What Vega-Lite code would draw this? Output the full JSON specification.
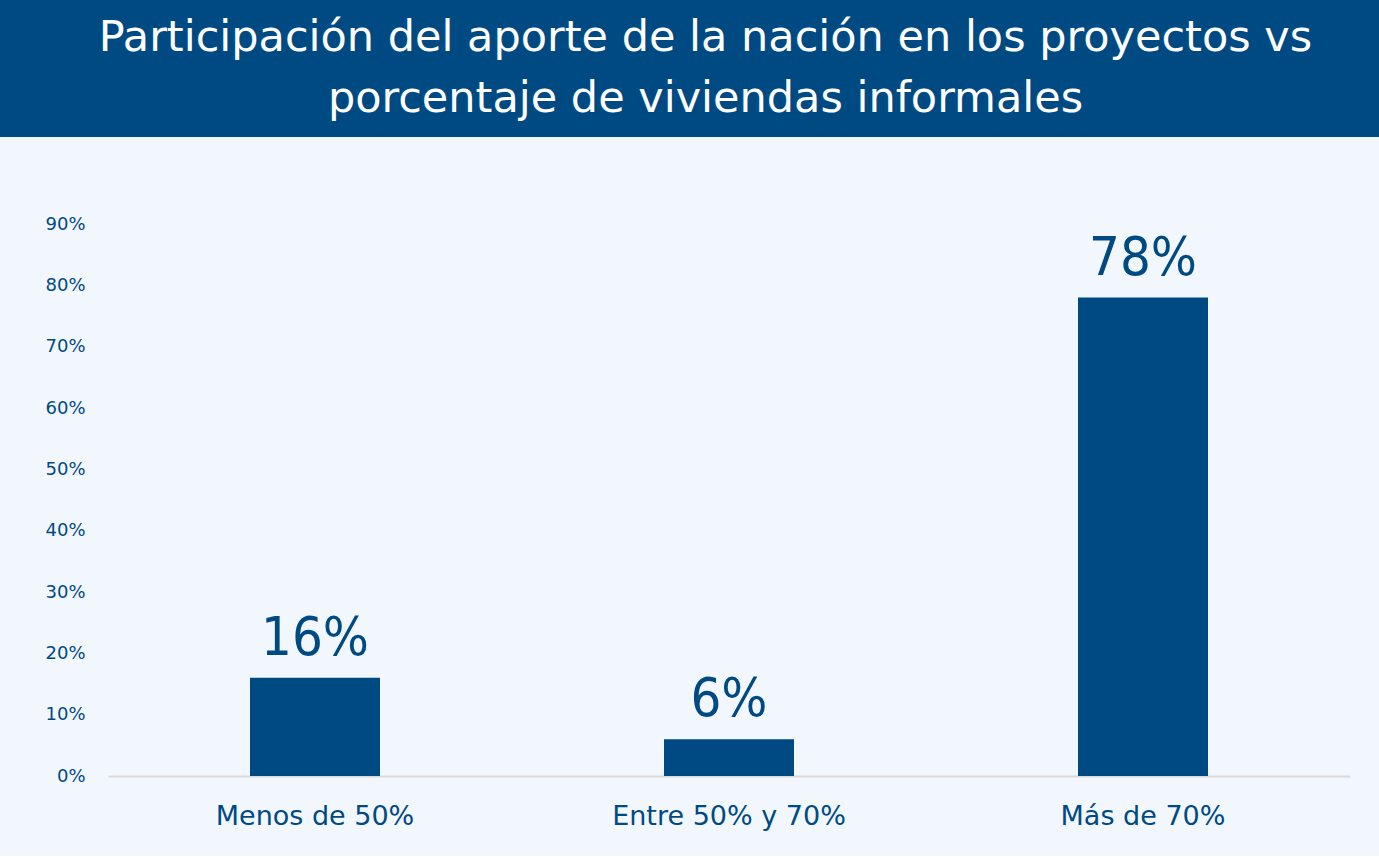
{
  "$schema": "https://vega.github.io/schema/vega-lite/v6.json",
  "background": "#F2F7FD",
  "padding": {"left": 0, "top": 0, "right": 0, "bottom": 27},
  "autosize": {"type": "pad"},
  "config": {"view": {"stroke": null}, "font": "DejaVu Sans"},
  "spacing": 78,
  "vconcat": [
    {
      "width": 1379,
      "height": 137,
      "view": {"fill": "#004A84", "stroke": null},
      "data": {"values": [
        {"line": 1, "t": "Participación del aporte de la nación en los proyectos vs"},
        {"line": 2, "t": "porcentaje de viviendas informales"}
      ]},
      "mark": {"type": "text", "color": "#FFFFFF", "fontSize": 43, "align": "center", "baseline": "middle", "dx": 16},
      "encoding": {
        "y": {"field": "line", "type": "ordinal", "axis": null, "scale": {"padding": 0.605}},
        "text": {"field": "t", "type": "nominal"}
      }
    },
    {
      "width": 1379,
      "height": 552,
      "data": {"values": [
        {"cat": "Menos de 50%", "v": 0.16},
        {"cat": "Entre 50% y 70%", "v": 0.06},
        {"cat": "Más de 70%", "v": 0.78}
      ]},
      "encoding": {
        "x": {
          "field": "cat", "type": "nominal", "sort": null,
          "scale": {"range": [108, 1350], "paddingInner": 0.686, "paddingOuter": 0.343},
          "axis": {"title": null, "labelAngle": 0, "ticks": false, "domainColor": "#D9D9D9", "domainWidth": 2, "labelFontSize": 27, "labelColor": "#004A84", "labelPadding": 27, "labelLimit": 0}
        },
        "y": {
          "field": "v", "type": "quantitative",
          "scale": {"domain": [0, 0.9], "nice": false},
          "axis": {"title": null, "format": ".0%", "values": [0, 0.1, 0.2, 0.3, 0.4, 0.5, 0.6, 0.7, 0.8, 0.9], "grid": false, "domain": false, "ticks": false, "labelPadding": 23, "offset": -108, "labelFontSize": 18, "labelColor": "#004A84"}
        }
      },
      "layer": [
        {"mark": {"type": "bar", "color": "#004A84"}},
        {"mark": {"type": "text", "baseline": "alphabetic", "dy": -23, "fontSize": 54, "font": "DejaVu Sans Condensed", "color": "#004A84"},
         "encoding": {"text": {"field": "v", "type": "quantitative", "format": ".0%"}}}
      ]
    }
  ]
}
